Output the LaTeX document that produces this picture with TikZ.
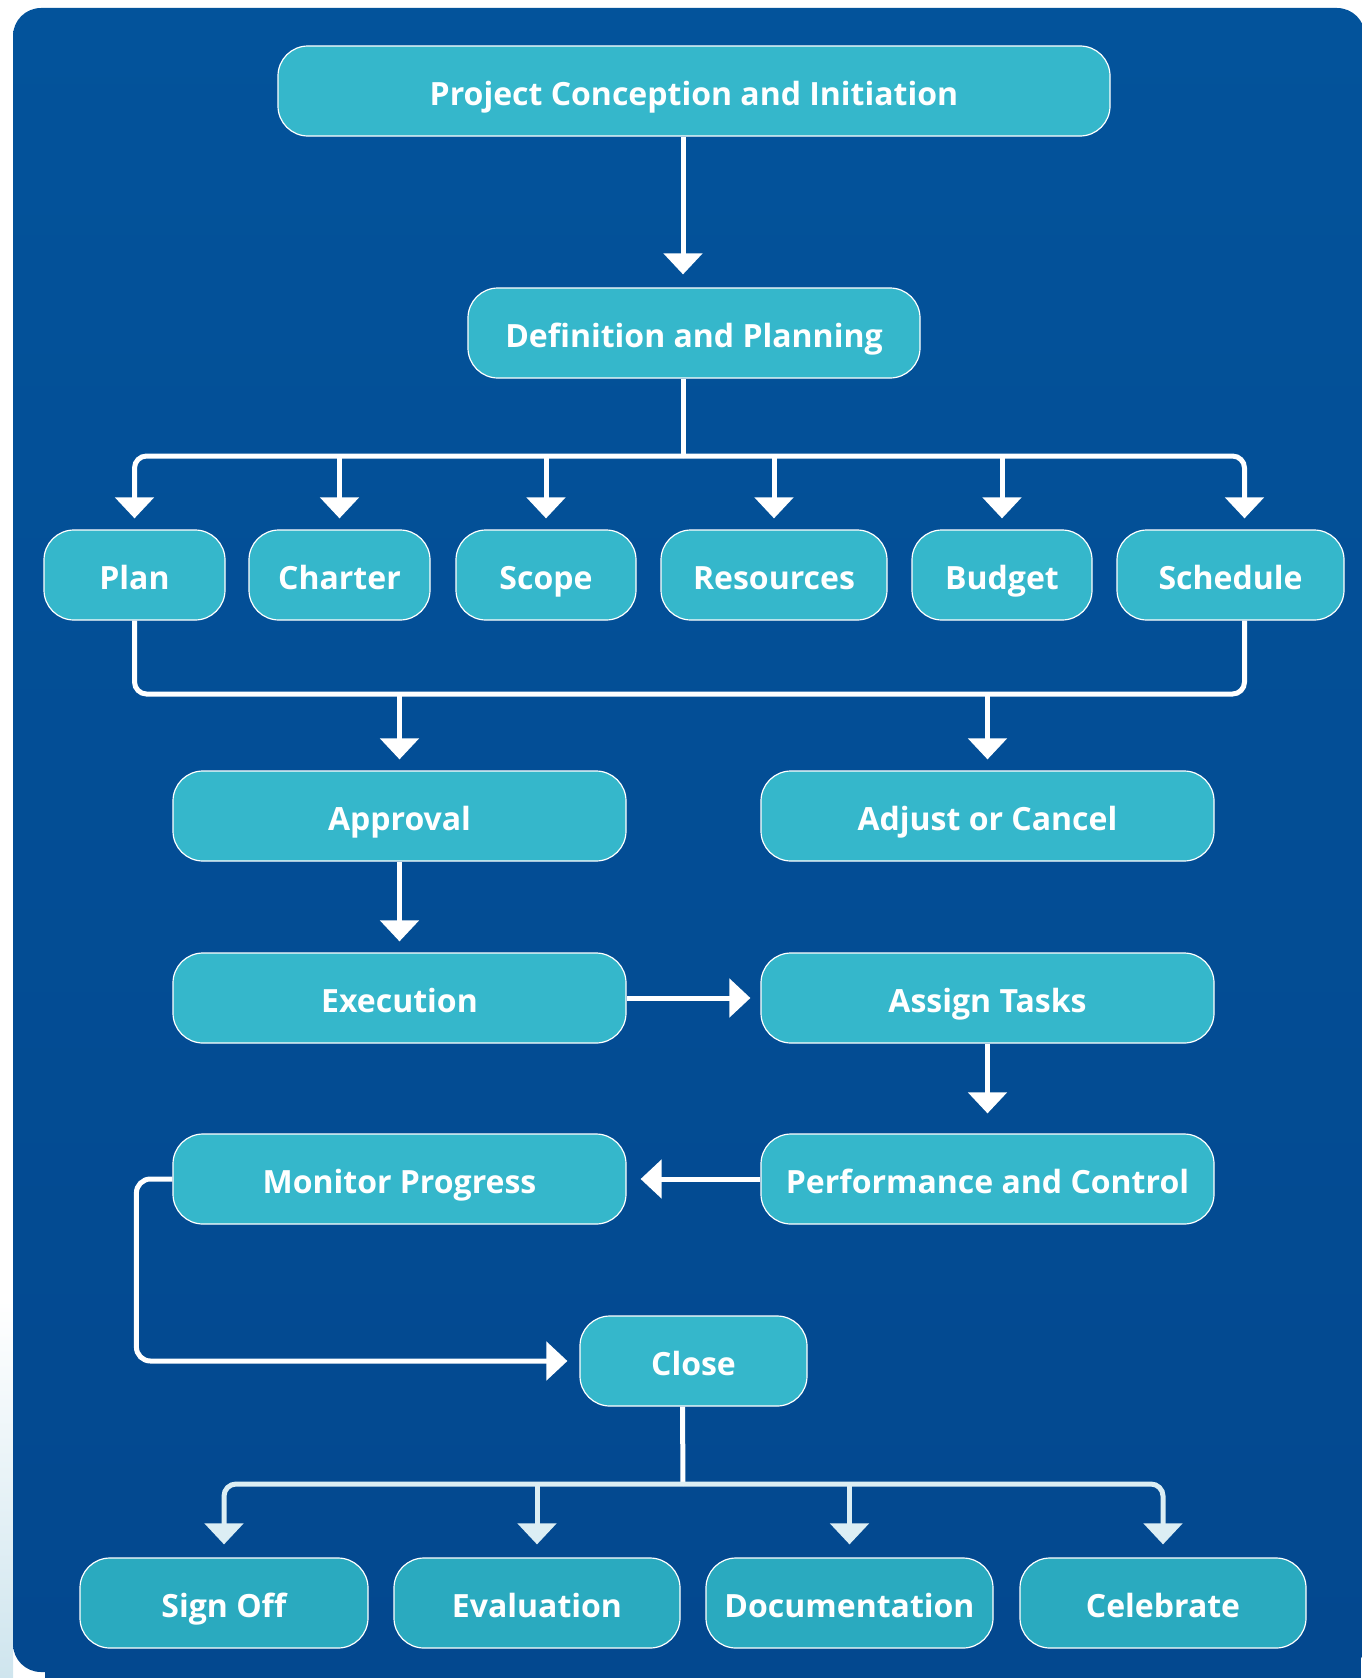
\documentclass[tikz,border=0pt]{standalone}
\usepackage{fontspec}
\setmainfont{Open Sans}
\usetikzlibrary{arrows.meta}
\definecolor{bgblue}{HTML}{03539B}
\definecolor{bgdeep}{HTML}{03488F}
\definecolor{boxteal}{HTML}{35B7CB}
\definecolor{boxdeep}{HTML}{2AAABF}
\definecolor{paleline}{HTML}{DCEEF4}
\definecolor{paleedge}{HTML}{CFE5EE}

\begin{document}
\begin{tikzpicture}[
    x=1pt, y=-1pt,
    box/.style={draw=white, line width=1.2pt, fill=boxteal, rounded corners=30pt,
        minimum height=90pt, inner sep=0pt, text=white,
        text height=28pt, text depth=0pt,
        font=\fontsize{32}{38}\selectfont\bfseries},
    arr/.style={line width=5pt, -{Triangle[width=38pt,length=21pt]}},
    link/.style={line width=5pt}]
    \useasboundingbox (0,0) rectangle (1361,1678);
    \shade[top color=white, bottom color=paleedge] (0,1300) rectangle (13,1678);
    \shade[top color=bgblue, bottom color=bgdeep, rounded corners=28pt]
        (13,8) rectangle (1365,1672);
    \fill[bgdeep] (45,1640) rectangle (1361,1678);

    % stages
    \node[box, minimum width=832pt] (proj) at (694,91) {Project Conception and Initiation};
    \node[box, minimum width=452pt] (def) at (694,333) {Definition and Planning};
    \node[box, minimum width=181pt] (plan) at (134.5,575) {Plan};
    \node[box, minimum width=181pt] (charter) at (339.5,575) {Charter};
    \node[box, minimum width=180pt] (scope) at (546,575) {Scope};
    \node[box, minimum width=226pt] (resources) at (774,575) {Resources};
    \node[box, minimum width=180pt] (budget) at (1002,575) {Budget};
    \node[box, minimum width=227pt] (sched) at (1230.5,575) {Schedule};
    \node[box, minimum width=453pt] (appr) at (399.5,816) {Approval};
    \node[box, minimum width=453pt] (adjust) at (987.5,816) {Adjust or Cancel};
    \node[box, minimum width=453pt] (exec) at (399.5,998) {Execution};
    \node[box, minimum width=453pt] (assign) at (987.5,998) {Assign Tasks};
    \node[box, minimum width=453pt] (mon) at (399.5,1179) {Monitor Progress};
    \node[box, minimum width=453pt] (perf) at (987.5,1179) {Performance and Control};
    \node[box, minimum width=227pt] (close) at (693.5,1361) {Close};
    \node[box, fill=boxdeep, minimum width=288pt] (signoff) at (224,1603) {Sign Off};
    \node[box, fill=boxdeep, minimum width=286pt] (eval) at (537,1603) {Evaluation};
    \node[box, fill=boxdeep, minimum width=287pt] (doc) at (849.5,1603) {Documentation};
    \node[box, fill=boxdeep, minimum width=286pt] (celeb) at (1163,1603) {Celebrate};

    % connectors
    \coordinate (stemA) at (683,456);
    \coordinate (busB) at (683,694);
    \coordinate (stemC) at (683,1484);
    \draw[arr, white, shorten >=13pt] ([xshift=-11pt]proj.south) -- ([xshift=-11pt]def.north);
    \draw[link, white] ([xshift=-11pt]def.south) -- (stemA);
    \draw[arr, white, rounded corners=12pt, shorten >=11pt] (stemA) -| (plan.north);
    \draw[arr, white, rounded corners=12pt, shorten >=11pt] (stemA) -| ([xshift=14pt]sched.north);
    \foreach \n in {charter,scope,resources,budget}
        \draw[arr, white, shorten >=11pt] (\n.north |- stemA) -- (\n.north);
    \draw[link, white, rounded corners=12pt] (plan.south) |- (busB) -| ([xshift=14pt]sched.south);
    \draw[arr, white, shorten >=11pt] (appr.north |- busB) -- (appr.north);
    \draw[arr, white, shorten >=11pt] (adjust.north |- busB) -- (adjust.north);
    \draw[arr, white, shorten >=11pt] (appr) -- (exec);
    \draw[arr, white, shorten >=10pt] (exec) -- (assign);
    \draw[arr, white, shorten >=20pt] (assign) -- (perf);
    \draw[arr, white, shorten >=14pt] (perf) -- (mon);
    \draw[arr, white, rounded corners=14pt, shorten >=12pt] (mon.west) -- ++(-36,0) |- (close.west);
    \draw[link, white] ([xshift=-11pt]close.south) -- (stemC);
    \draw[arr, paleline, rounded corners=12pt, shorten >=13pt] (stemC) -| (signoff.north);
    \draw[arr, paleline, rounded corners=12pt, shorten >=13pt] (stemC) -| (celeb.north);
    \draw[arr, paleline, shorten >=13pt] (eval.north |- stemC) -- (eval.north);
    \draw[arr, paleline, shorten >=13pt] (doc.north |- stemC) -- (doc.north);
\end{tikzpicture}
\end{document}
